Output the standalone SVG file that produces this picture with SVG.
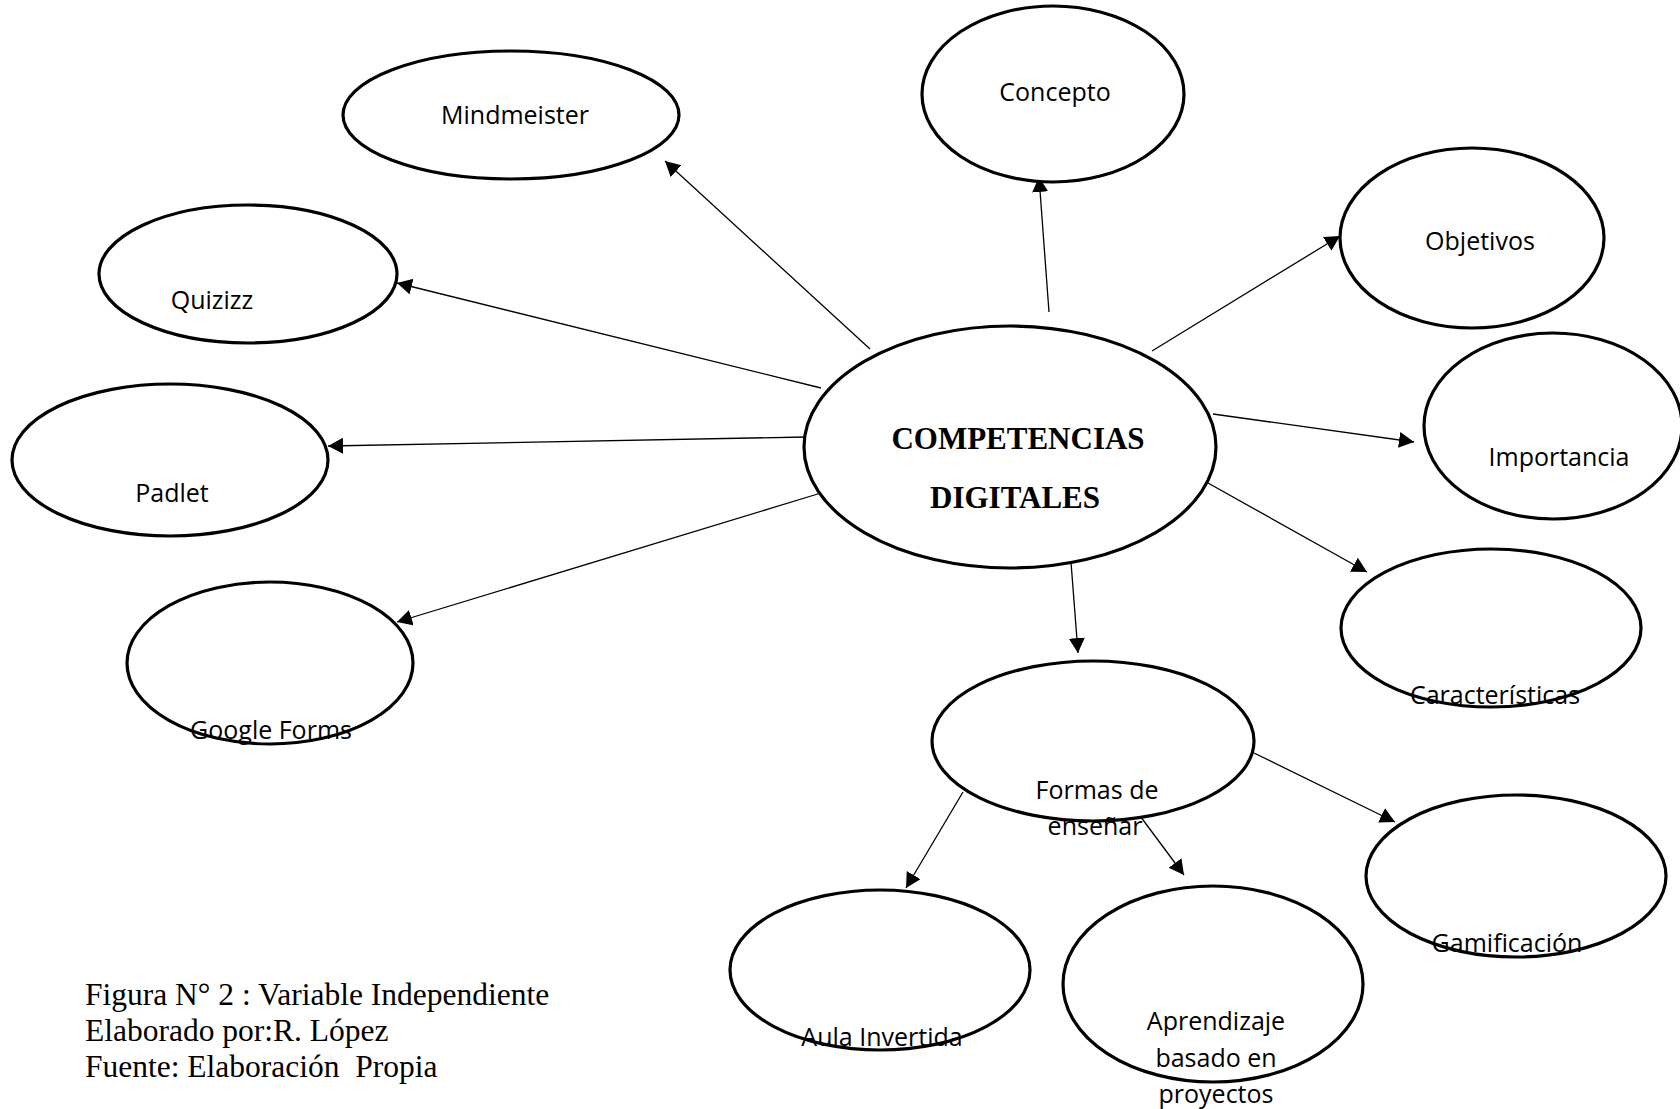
<svg xmlns="http://www.w3.org/2000/svg" width="1680" height="1109" viewBox="0 0 1680 1109">
<style>
.node{fill:#fff;stroke:#000;stroke-width:3.2}
.lbl{font-family:"Open Sans","Noto Sans",sans-serif;font-size:25px;fill:#000;text-anchor:middle}
.main{font-family:"Liberation Serif","Times New Roman",serif;font-size:31px;font-weight:bold;fill:#000;text-anchor:middle}
.cap{font-family:"Liberation Serif","Times New Roman",serif;font-size:31.5px;fill:#000}
.edge{stroke:#000;stroke-width:1.3;fill:none;marker-end:url(#arr)}
</style>
<defs>
<marker id="arr" markerUnits="userSpaceOnUse" markerWidth="17" markerHeight="17" refX="15" refY="8" orient="auto">
<path d="M0,0 L15,8 L0,16 Z" fill="#000"/>
</marker>
</defs>
<rect width="1680" height="1109" fill="#fff"/>
<g id="connectors">
<line class="edge" x1="870" y1="349" x2="665" y2="161"/>
<line class="edge" x1="821" y1="388" x2="397" y2="283"/>
<line class="edge" x1="805" y1="437" x2="328" y2="446"/>
<line class="edge" x1="821" y1="493" x2="397" y2="622"/>
<line class="edge" x1="1049" y1="312" x2="1039" y2="177"/>
<line class="edge" x1="1152" y1="351" x2="1340" y2="236"/>
<line class="edge" x1="1213" y1="414" x2="1414" y2="442"/>
<line class="edge" x1="1208" y1="483" x2="1367" y2="572"/>
<line class="edge" x1="1071" y1="562" x2="1078" y2="653"/>
<line class="edge" x1="963" y1="792" x2="906" y2="888"/>
<line class="edge" x1="1120" y1="789" x2="1184" y2="875"/>
<line class="edge" x1="1254" y1="753" x2="1395" y2="822"/>
</g>
<g id="node-mindmeister">
<ellipse class="node" cx="511" cy="115" rx="168" ry="64"/>
<text class="lbl" x="515" y="124">Mindmeister</text>
</g>
<g id="node-concepto">
<ellipse class="node" cx="1053" cy="94" rx="131" ry="88"/>
<text class="lbl" x="1055" y="101">Concepto</text>
</g>
<g id="node-objetivos">
<ellipse class="node" cx="1472" cy="238" rx="132" ry="90"/>
<text class="lbl" x="1480" y="250">Objetivos</text>
</g>
<g id="node-quizizz">
<ellipse class="node" cx="248" cy="274" rx="149" ry="69"/>
<text class="lbl" x="212" y="309">Quizizz</text>
</g>
<g id="node-importancia">
<ellipse class="node" cx="1553" cy="426" rx="129" ry="93"/>
<text class="lbl" x="1559" y="466">Importancia</text>
</g>
<g id="node-padlet">
<ellipse class="node" cx="170" cy="460" rx="158" ry="76"/>
<text class="lbl" x="172" y="502">Padlet</text>
</g>
<g id="node-competencias">
<ellipse class="node" cx="1010" cy="447" rx="206" ry="121"/>
<text class="main" x="1018" y="449">COMPETENCIAS</text>
<text class="main" x="1015" y="508">DIGITALES</text>
</g>
<g id="node-caracteristicas">
<ellipse class="node" cx="1491" cy="628" rx="150" ry="79"/>
<text class="lbl" x="1495" y="704">Características</text>
</g>
<g id="node-googleforms">
<ellipse class="node" cx="270" cy="663" rx="143" ry="81"/>
<text class="lbl" x="271" y="739">Google Forms</text>
</g>
<g id="node-formas">
<ellipse class="node" cx="1093" cy="741" rx="161" ry="80"/>
<text class="lbl" x="1097" y="799">Formas de</text>
<text class="lbl" x="1095" y="835">enseñar</text>
</g>
<g id="node-gamificacion">
<ellipse class="node" cx="1516" cy="876" rx="150" ry="81"/>
<text class="lbl" x="1507" y="952">Gamificación</text>
</g>
<g id="node-aula">
<ellipse class="node" cx="880" cy="970" rx="150" ry="80"/>
<text class="lbl" x="882" y="1046">Aula Invertida</text>
</g>
<g id="node-aprendizaje">
<ellipse class="node" cx="1213" cy="984" rx="150" ry="98"/>
<text class="lbl" x="1216" y="1030">Aprendizaje</text>
<text class="lbl" x="1216" y="1067">basado en</text>
<text class="lbl" x="1216" y="1103">proyectos</text>
</g>
<g id="caption">
<text class="cap" x="85" y="1005">Figura N° 2 : Variable Independiente</text>
<text class="cap" x="85" y="1041">Elaborado por:R. López</text>
<text class="cap" x="85" y="1077" xml:space="preserve">Fuente: Elaboración  Propia</text>
</g>
</svg>
